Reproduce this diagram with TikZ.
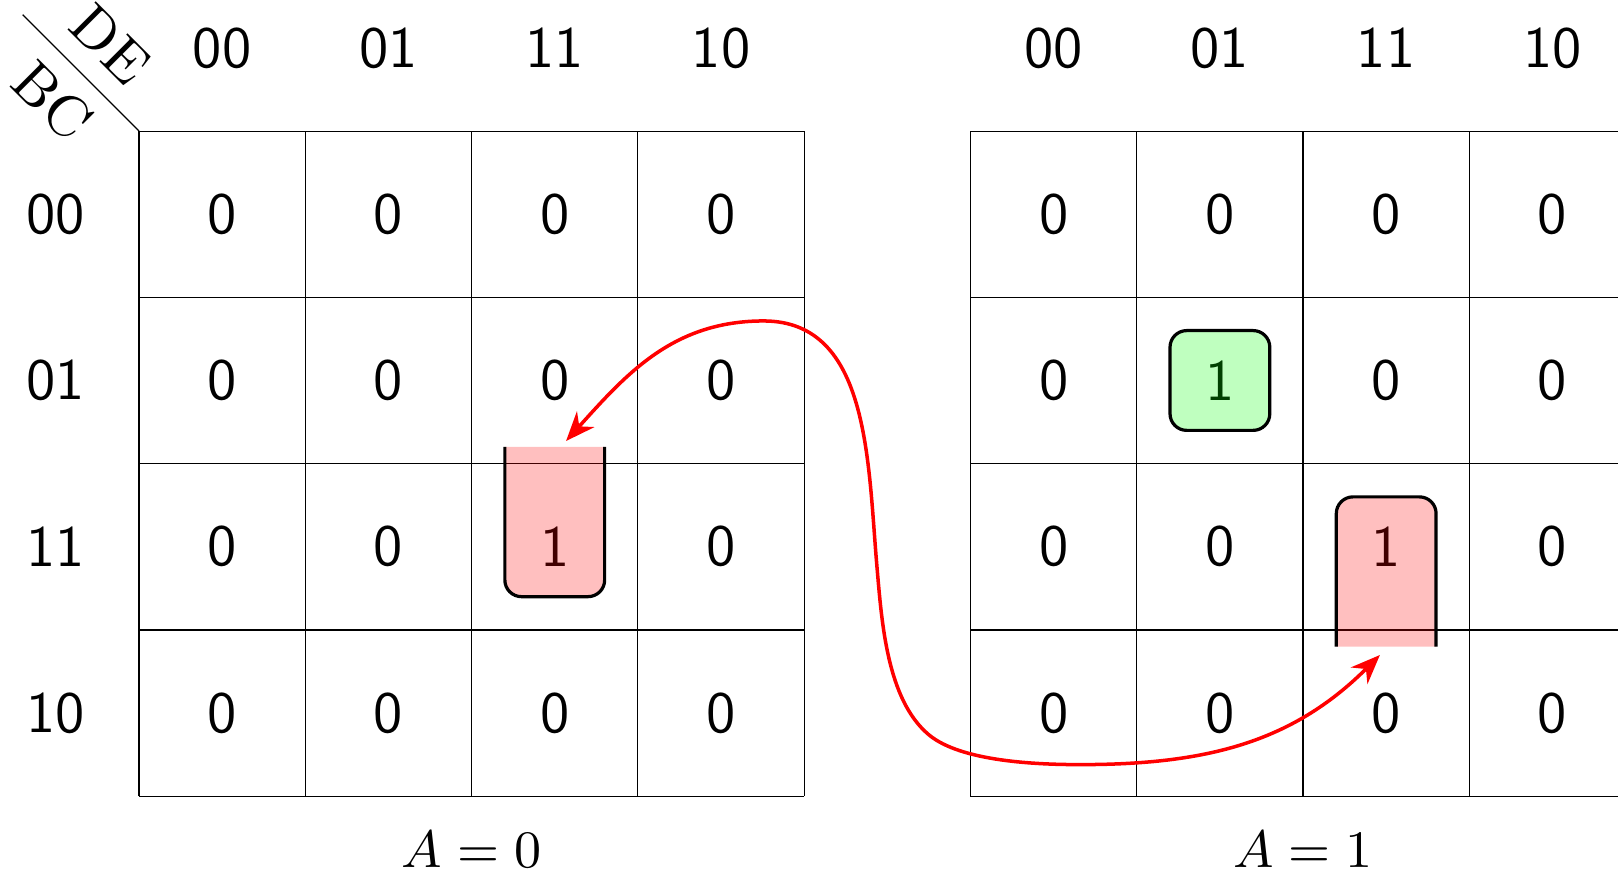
\documentclass[tikz,border=0pt]{standalone}
\usetikzlibrary{arrows.meta}
\begin{document}
\begin{tikzpicture}[x=1cm,y=1cm,
  gridline/.style={line width=0.2pt,black},
  digit/.style={font=\sffamily,inner sep=0pt},
  boxline/.style={line width=0.55pt,draw=black},
  pinkfill/.style={fill=red,fill opacity=0.25},
  greenfill/.style={fill=green,fill opacity=0.25},
  mapname/.style={font=\small,inner sep=0pt},
  link/.style={red,line width=0.6pt,{Stealth[length=5pt,width=4pt]}-{Stealth[length=5pt,width=4pt]}}]
\clip (-0.836,-4.468) rectangle (8.894,0.788);
% grids
\foreach \ox in {0,5}{
  \draw[gridline] (\ox,0) grid (\ox+4,-4);
}
% corner diagonal and labels
\coordinate (cornerA) at (0,0);
\coordinate (cornerB) at (-0.7,0.7);
\draw[line width=0.2pt] (cornerA) -- (cornerB);
\node[rotate=-45,inner sep=0pt] (lblDE) at (-0.17,0.52) {DE};
\node[rotate=-45,inner sep=0pt] (lblBC) at (-0.52,0.18) {BC};
% headers
\foreach \c/\t in {0/00,1/01,2/11,3/10}{
  \node[digit] (hL\c) at (\c+0.5,0.5) {\t};
  \node[digit] (hR\c) at (5+\c+0.5,0.5) {\t};
  \node[digit] (rL\c) at (-0.5,-\c-0.5) {\t};
}
% cell values
\foreach \r in {0,1,2,3}{
  \foreach \c in {0,1,2,3}{
    \pgfmathtruncatemacro{\vL}{(\r==2 && \c==2) ? 1 : 0}
    \pgfmathtruncatemacro{\vR}{((\r==1 && \c==1) || (\r==2 && \c==2)) ? 1 : 0}
    \node[digit] (L-\r-\c) at (\c+0.5,-\r-0.5) {\vL};
    \node[digit] (R-\r-\c) at (5+\c+0.5,-\r-0.5) {\vR};
  }
}
% left pink box (open top)
\fill[pinkfill] (2.2,-1.9) {[rounded corners=0.1cm] -- (2.2,-2.8) -- (2.8,-2.8)} -- (2.8,-1.9) -- cycle;
\draw[boxline] (2.2,-1.9) {[rounded corners=0.1cm] -- (2.2,-2.8) -- (2.8,-2.8)} -- (2.8,-1.9);
% right pink box (open bottom)
\fill[pinkfill] (7.2,-3.1) {[rounded corners=0.1cm] -- (7.2,-2.2) -- (7.8,-2.2)} -- (7.8,-3.1) -- cycle;
\draw[boxline] (7.2,-3.1) {[rounded corners=0.1cm] -- (7.2,-2.2) -- (7.8,-2.2)} -- (7.8,-3.1);
% green box
\filldraw[boxline,greenfill,rounded corners=0.1cm] (6.2,-1.2) rectangle (6.8,-1.8);
% map names
\node[mapname] (nameA0) at (2,-4.32) {$A=0$};
\node[mapname] (nameA1) at (7,-4.32) {$A=1$};
% link
\coordinate (ltip) at (2.568,-1.864);
\coordinate (p1) at (3.756,-1.142);
\coordinate (p2) at (4.438,-2.625);
\coordinate (p3) at (4.749,-3.630);
\coordinate (p4) at (5.659,-3.810);
\coordinate (rtip) at (7.462,-3.151);
\draw[link] (ltip) to[out=48,in=180] (p1) to[out=0,in=95] (p2)
  to[out=-85,in=140,looseness=0.8] (p3) to[out=-40,in=180,looseness=0.7] (p4)
  to[out=0,in=225] (rtip);
\end{tikzpicture}
\end{document}
